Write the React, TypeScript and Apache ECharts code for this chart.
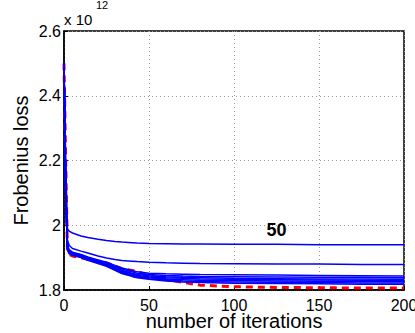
import React, { useEffect, useRef } from "react";
import * as echarts from "echarts";

const iterations = [0, 1, 2, 3, 5, 10, 14, 20, 25, 30, 34, 40, 43, 50, 60, 70, 80, 100, 125, 150, 175, 200];

const blueSeries: number[][] = [
  [2.5, 2.2, 1.99, 1.982, 1.976, 1.967, 1.962, 1.957, 1.953, 1.95, 1.948, 1.946, 1.945, 1.944, 1.943, 1.942, 1.942, 1.941, 1.941, 1.94, 1.94, 1.94],
  [2.5, 2.15, 1.955, 1.938, 1.928, 1.92, 1.914, 1.905, 1.899, 1.894, 1.891, 1.889, 1.888, 1.886, 1.884, 1.883, 1.882, 1.881, 1.88, 1.88, 1.879, 1.879],
  [2.5, 2.1, 1.94, 1.925, 1.917, 1.91, 1.902, 1.893, 1.886, 1.876, 1.868, 1.86, 1.856, 1.852, 1.85, 1.849, 1.848, 1.847, 1.846, 1.845, 1.844, 1.843],
  [2.5, 2.1, 1.935, 1.922, 1.915, 1.908, 1.9, 1.891, 1.884, 1.873, 1.865, 1.856, 1.852, 1.848, 1.845, 1.843, 1.842, 1.841, 1.84, 1.839, 1.839, 1.838],
  [2.5, 2.1, 1.932, 1.92, 1.913, 1.906, 1.898, 1.889, 1.881, 1.87, 1.861, 1.852, 1.848, 1.844, 1.841, 1.839, 1.838, 1.836, 1.835, 1.834, 1.834, 1.833],
  [2.5, 2.1, 1.93, 1.918, 1.911, 1.904, 1.896, 1.887, 1.879, 1.868, 1.858, 1.849, 1.845, 1.841, 1.838, 1.836, 1.834, 1.833, 1.832, 1.831, 1.83, 1.83],
  [2.5, 2.1, 1.928, 1.916, 1.91, 1.903, 1.895, 1.886, 1.877, 1.865, 1.855, 1.846, 1.842, 1.838, 1.834, 1.832, 1.83, 1.829, 1.828, 1.827, 1.826, 1.826],
  [2.5, 2.1, 1.926, 1.914, 1.908, 1.901, 1.893, 1.884, 1.875, 1.863, 1.853, 1.844, 1.84, 1.835, 1.831, 1.828, 1.826, 1.825, 1.824, 1.823, 1.822, 1.822],
  [2.5, 2.1, 1.924, 1.912, 1.907, 1.9, 1.892, 1.882, 1.873, 1.861, 1.851, 1.842, 1.838, 1.833, 1.828, 1.825, 1.823, 1.821, 1.82, 1.819, 1.818, 1.818],
];

const redSeries = [2.5, 2.2, 1.93, 1.91, 1.905, 1.9, 1.895, 1.89, 1.884, 1.874, 1.866, 1.86, 1.857, 1.845, 1.832, 1.824, 1.815, 1.81, 1.808, 1.807, 1.806, 1.806];

const xTicks = [0, 50, 100, 150, 200];
const yTicks = [1.8, 2.0, 2.2, 2.4, 2.6];

const annotation = { text: "50", x: 125, y: 1.985 };

const FONT = "Liberation Sans, Arial, Helvetica, sans-serif";

export default function App() {
  const ref = useRef<HTMLDivElement>(null);
  useEffect(() => {
    if (!ref.current) return;
    const chart = echarts.init(ref.current, null, { renderer: "svg" });
    const series: any[] = blueSeries.map((vals, i) => ({
      type: "line",
      name: "blue" + i,
      data: iterations.map((x, j) => [x, vals[j]]),
      showSymbol: false,
      symbol: "none",
      lineStyle: { color: "#0000ff", width: 1.5 },
      z: 3,
    }));
    series.push({
      type: "line",
      name: "red",
      data: iterations.map((x, j) => [x, redSeries[j]]),
      showSymbol: false,
      symbol: "none",
      lineStyle: { color: "#ff0000", width: 3, type: [7, 5] },
      z: 2,
    });
    chart.setOption({
      animation: false,
      textStyle: { fontFamily: FONT },
      grid: {
        left: 64,
        right: 11,
        top: 31,
        bottom: 43,
        containLabel: false,
        outerBoundsMode: "none",
        show: true,
        borderColor: "#000",
        borderWidth: 1.5,
        backgroundColor: "#fff",
      },
      xAxis: {
        type: "value",
        min: xTicks[0],
        max: xTicks[xTicks.length - 1],
        interval: 50,
        name: "number of iterations",
        nameLocation: "middle",
        nameGap: 21,
        nameMoveOverlap: false,
        nameTextStyle: { fontSize: 20, lineHeight: 20, color: "#000", fontFamily: FONT },
        axisLine: { show: true, lineStyle: { color: "#000", width: 1.5 } },
        axisTick: { show: true, inside: true, length: 4, lineStyle: { color: "#000" } },
        axisLabel: { fontSize: 16, lineHeight: 14, color: "#000", margin: 8, fontFamily: FONT },
        splitLine: { show: true, lineStyle: { color: "#999", type: [1, 3], width: 1 } },
      },
      yAxis: {
        type: "value",
        min: yTicks[0],
        max: yTicks[yTicks.length - 1],
        interval: 0.2,
        name: "Frobenius loss",
        nameLocation: "middle",
        nameGap: 33,
        nameMoveOverlap: false,
        nameTextStyle: { fontSize: 20, color: "#000", fontFamily: FONT },
        axisLine: { show: true, lineStyle: { color: "#000", width: 1.5 } },
        axisTick: { show: true, inside: true, length: 4, lineStyle: { color: "#000" } },
        axisLabel: {
          fontSize: 16,
          color: "#000",
          margin: 3,
          fontFamily: FONT,
          formatter: (v: number) => String(parseFloat(v.toFixed(2))),
        },
        splitLine: { show: true, lineStyle: { color: "#999", type: [1, 3], width: 1 } },
      },
      series,
    });
    const p = chart.convertToPixel({ gridIndex: 0 }, [annotation.x, annotation.y]) as number[];
    chart.setOption({
      graphic: [
        {
          type: "text",
          left: 64,
          top: 12,
          style: { text: "x 10", fontSize: 15, fill: "#000", fontFamily: FONT },
        },
        {
          type: "text",
          left: 96,
          top: -1,
          style: { text: "12", fontSize: 11, fill: "#000", fontFamily: FONT },
        },
        {
          type: "text",
          x: p[0],
          y: p[1],
          style: {
            text: annotation.text,
            fontSize: 18,
            fontWeight: "bold",
            fill: "#000",
            fontFamily: FONT,
            align: "center",
            verticalAlign: "middle",
          },
          z: 10,
        },
      ],
    });
    return () => chart.dispose();
  }, []);
  return <div ref={ref} style={{ width: 415, height: 333, position: "absolute", left: 0, top: 0 }} />;
}
